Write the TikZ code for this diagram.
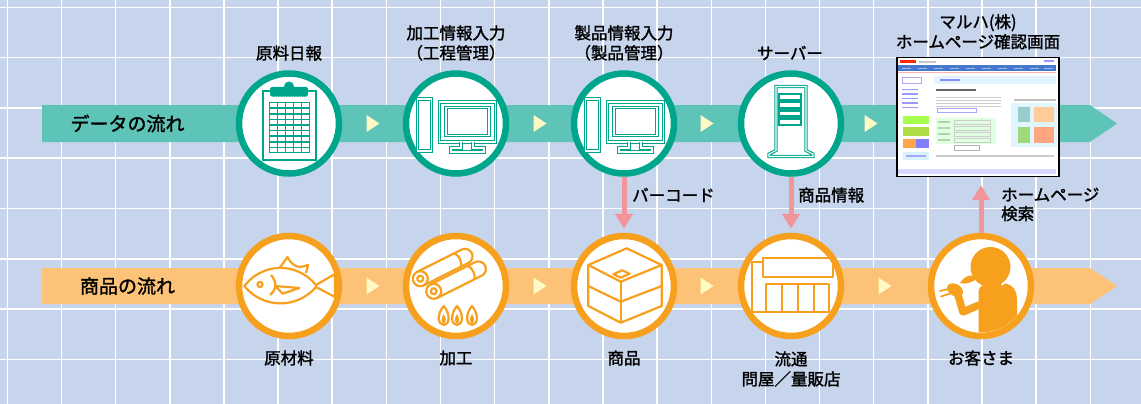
\documentclass[tikz,border=0pt]{standalone}
\usepackage{fontspec}
\setmainfont{Noto Sans CJK JP}[FakeBold=1.6]
\usetikzlibrary{arrows.meta}
\definecolor{bgblue}{RGB}{198,212,236}
\definecolor{datateal}{RGB}{0,166,140}
\definecolor{databand}{RGB}{94,196,184}
\definecolor{goodsorange}{RGB}{246,160,30}
\definecolor{goodsband}{RGB}{252,195,120}
\definecolor{stepmark}{RGB}{255,249,196}
\definecolor{linkpink}{RGB}{242,148,154}
\definecolor{navblue}{RGB}{70,120,205}

\begin{document}
\begin{tikzpicture}[x=1pt, y=-1pt,
    datastep/.style={circle, draw=datateal, fill=white, line width=6.5pt, minimum size=100pt, inner sep=0pt},
    goodsstep/.style={datastep, draw=goodsorange},
    steptext/.style={font=\fontsize{16.5}{20}\selectfont, align=center, inner sep=0pt},
    bandtext/.style={font=\fontsize{19}{22}\selectfont, inner sep=0pt},
    screen/.style={draw=black, fill=white, line width=1.2pt, minimum width=162pt, minimum height=119pt, inner sep=0pt},
    linkarrow/.style={draw=linkpink, line width=5pt, -{Triangle[width=17pt,length=15pt]}},
    dataicon/.style={draw=datateal, line width=1.1pt, double=white, double distance=1.1pt},
    goodsicon/.style={draw=goodsorange, line width=2.2pt, line join=round}]
   \useasboundingbox (0,0) rectangle (1141,404);
   \fill[bgblue] (0,0) rectangle (1141,404);
   \foreach \i in {0,...,20}
      \draw[white, line width=1.5pt] (7.3+54.15*\i,0) -- (7.3+54.15*\i,404);
   \foreach \j in {0,...,7}
      \draw[white, line width=1.5pt] (0,7.3+50.3*\j) -- (1141,7.3+50.3*\j);

   \fill[databand] (42,105) -- (1090,105) -- (1117,123.5) -- (1090,142) -- (42,142) -- cycle;
   \fill[goodsband] (42,268) -- (1090,268) -- (1117,286) -- (1090,304) -- (42,304) -- cycle;
   \node[bandtext] (dataflow) at (127.5,123.5) {データの流れ};
   \node[bandtext] (goodsflow) at (127.5,286) {商品の流れ};
   \foreach \x in {373,540,707,871}
      \fill[stepmark] (\x-6.5,115) -- (\x+6.5,123.5) -- (\x-6.5,132) -- cycle;
   \foreach \x in {373,540,707,885}
      \fill[stepmark] (\x-6.5,277.5) -- (\x+6.5,286) -- (\x-6.5,294.5) -- cycle;

   \node[datastep] (nippo) at (289,123.5) {};
   \node[datastep] (kakoinput) at (456,123.5) {};
   \node[datastep] (seihininput) at (624,123.5) {};
   \node[datastep] (server) at (791,123.5) {};
   \node[screen] (homepage) at (978,117) {};
   \node[goodsstep] (genryo) at (289,286) {};
   \node[goodsstep] (kako) at (456,286) {};
   \node[goodsstep] (shohin) at (624,286) {};
   \node[goodsstep] (ryutsu) at (791,286) {};
   \node[goodsstep] (kyaku) at (981,286) {};

   \node[steptext] at (289,53) {原料日報};
   \node[steptext] at (456,43) {加工情報入力\\（工程管理）};
   \node[steptext] at (624,43) {製品情報入力\\（製品管理）};
   \node[steptext] at (790,53) {サーバー};
   \node[steptext] at (978,31.7) {マルハ(株)\\ホームページ確認画面};
   \node[steptext] at (289,358) {原材料};
   \node[steptext] at (456,358) {加工};
   \node[steptext] at (624,358) {商品};
   \node[steptext] at (791,369) {流通\\問屋／量販店};
   \node[steptext] at (981,358) {お客さま};

   \draw[linkarrow, shorten >=4pt] (seihininput) -- (shohin);
   \draw[linkarrow, shorten >=4pt] (server) -- (ryutsu);
   \draw[linkarrow, shorten >=8pt] (kyaku) -- (kyaku |- homepage.south);
   \node[steptext, anchor=west] at (632,195) {バーコード};
   \node[steptext, anchor=west] at (798,195) {商品情報};
   \node[steptext, anchor=west, align=left] at (1001,204.5) {ホームページ\\[-1pt]検索};

   \begin{scope}[shift={(nippo.center)}]
      \filldraw[draw=datateal, fill=white, line width=2pt] (-26.5,-32) rectangle (26.5,36.5);
      \fill[datateal, rounded corners=2pt] (-19,-36.5) rectangle (19,-27);
      \fill[datateal] (0,-37) circle[radius=5];
      \fill[datateal] (-20.3,-21.8) rectangle (21,29.8);
      \foreach \c in {0,...,4}
         \foreach \r in {0,...,8}
            \fill[white] (-18.6+8*\c,-20.1+5.6*\r) rectangle ++(6.3,3.9);
   \end{scope}

   \begin{scope}[shift={(kakoinput.center)}]
      \draw[dataicon] (-38.3,-24.5) rectangle (-24.3,27.5);
      \draw[dataicon] (-16.5,-21.5) rectangle (39.5,18.5);
      \draw[dataicon] (-10,-16) rectangle (33,12);
      \draw[dataicon] (5,18.5) -- (5,24.5) -- (-5,24.5) -- (-5,28.5) -- (28,28.5) -- (28,24.5) -- (17,24.5) -- (17,18.5);
   \end{scope}

   \begin{scope}[shift={(seihininput.center)}]
      \draw[dataicon] (-38.3,-24.5) rectangle (-24.3,27.5);
      \draw[dataicon] (-16.5,-21.5) rectangle (39.5,18.5);
      \draw[dataicon] (-10,-16) rectangle (33,12);
      \draw[dataicon] (5,18.5) -- (5,24.5) -- (-5,24.5) -- (-5,28.5) -- (28,28.5) -- (28,24.5) -- (17,24.5) -- (17,18.5);
   \end{scope}

   \begin{scope}[shift={(server.center)}]
      \draw[dataicon] (-15,-37) -- (15,-37) -- (15,27) -- (22,30.5) -- (22,33) -- (-22,33) -- (-22,30.5) -- (-15,27) -- cycle;
      \fill[datateal] (-13.3,-30.5) rectangle (11.3,2.5);
      \foreach \y in {-28.5,-20.2,-11.9,-3.6}
         \fill[white] (-11.3,\y) rectangle (9.3,\y+3.6);
   \end{scope}

   \begin{scope}[shift={(homepage.north west)}]
      \fill[red!70!orange] (4,3) rectangle (20,6.5);
      \fill[gray!45] (23,4) rectangle (40,5.8);
      \fill[blue!40] (148,3.5) rectangle (158,5.3);
      \fill[navblue] (2,8.5) rectangle (160,14.5);
      \foreach \x in {6,22,38,54,70,86,102,118,134,148}
         \fill[white, opacity=.5] (\x,10.8) rectangle ++(9,1.4);
      \fill[red!30] (2,15.3) rectangle (160,16.3);
      \draw[blue!35] (6,20) rectangle (25,26);
      \foreach \y in {32,36.5,41,45.5,50}
         \fill[blue!40] (6,\y) rectangle ++(16,1.3);
      \fill[green!50!yellow!70] (7,59) rectangle (33,67);
      \fill[yellow!60!green!80] (7,70.5) rectangle (33,79);
      \fill[orange!70] (7,82) rectangle (20,91);
      \fill[blue!50] (20,82) rectangle (33,91);
      \fill[cyan!15] (7,95) rectangle (33,103);
      \fill[blue!35] (10,98) rectangle (30,100.5);
      \fill[cyan!12] (38,19.5) rectangle (160,27);
      \fill[blue!45] (44,22.5) rectangle ++(20,2);
      \fill[black!60] (40,32) rectangle (80,34.5);
      \foreach \y in {40,43,46,49}
         \fill[gray!40] (40,\y) rectangle ++(65,1);
      \draw[blue!35] (41,51.5) rectangle (80,55);
      \fill[green!12] (40,61) rectangle (100,87);
      \foreach \y in {64,70,76,82}
         \fill[green!40!black!30] (42,\y) rectangle ++(12,2);
      \foreach \y in {64,70,76,82}
         \draw[gray!40] (58,\y-1) rectangle ++(36,4);
      \draw[gray!60] (58,88) rectangle (83,93);
      \fill[gray!50] (118,42) rectangle (160,44);
      \fill[cyan!12] (115,46) rectangle (161,90);
      \fill[teal!40] (122,50) rectangle (134,65);
      \fill[orange!40] (138,50) rectangle (158,65);
      \fill[green!50!brown!60] (122,70) rectangle (134,86);
      \fill[orange!60!red!50] (138,70) rectangle (158,86);
      \fill[gray!40] (40,98) rectangle (158,100);
      \fill[blue!15] (2,112) rectangle (160,117.5);
   \end{scope}

   \begin{scope}[shift={(genryo.center)}]
      \draw[goodsicon] (-44.7,0) .. controls (-26,-24) and (8,-24) .. (27,-1) -- (46,-12) -- (46,11) -- (27,1) .. controls (8,23) and (-26,23) .. (-44.7,0) -- cycle;
      \draw[goodsicon] (-9,-18.5) -- (-1.5,-29) .. controls (2,-22) and (6,-20) .. (10,-19) .. controls (13,-19) and (16,-20) .. (19,-21) -- (17,-13);
      \draw[goodsicon] (-29,-1.5) circle[radius=2.6];
      \draw[goodsicon] (-18,-11) .. controls (-12,-4) and (-12,3) .. (-19,9);
      \draw[goodsicon] (-13.7,0) -- (10.3,2) -- (-6.3,7.7) -- cycle;
   \end{scope}

   \begin{scope}[shift={(kako.center)}]
      \foreach \px/\py in {-35.7/-7.3,-22.3/5.3} {
         \begin{scope}[shift={(\px,\py)}, rotate=26.6]
            \filldraw[goodsicon, fill=white] (0,-7.5) -- (50,-7.5) arc[start angle=-90, end angle=90, radius=7.5] -- (0,7.5) -- cycle;
            \draw[goodsicon] (42,-7.5) .. controls (45,-3) and (45,3) .. (42,7.5);
            \filldraw[goodsicon, fill=white] (0,0) circle[radius=7.5];
            \draw[goodsicon] (0,0) circle[radius=3];
         \end{scope}
      }
      \foreach \x in {-12.3,1,16} {
         \draw[goodsicon] (\x,20) .. controls (\x-7,28) and (\x-6,39) .. (\x,39) .. controls (\x+6,39) and (\x+7,28) .. (\x,20) -- cycle;
         \fill[goodsorange] (\x,28) .. controls (\x-3.5,33) and (\x-2,37) .. (\x,37.5) .. controls (\x+2,37) and (\x+3.5,33) .. (\x,28);
      }
   \end{scope}

   \begin{scope}[shift={(shohin.center)}]
      \draw[goodsicon] (-35.7,-21) -- (2.7,-37.7) -- (37.7,-21) -- (-3.3,-4.3) -- cycle;
      \draw[goodsicon] (-35.7,-21) -- (-35.7,20) -- (-3.3,36.7) -- (37.7,20) -- (37.7,-21);
      \draw[goodsicon] (-3.3,-4.3) -- (-3.3,36.7);
      \draw[goodsicon] (-35.7,0) -- (-3.3,15.7) -- (37.7,0);
      \draw[goodsicon] (-10.6,-11.8) -- (-1.75,-15.7) -- (5.6,-12.2) -- (-3.2,-8.3) -- cycle;
   \end{scope}

   \begin{scope}[shift={(ryutsu.center)}]
      \draw[goodsicon] (-39,26) -- (-39,-24) -- (-28,-24);
      \draw[goodsicon] (-28,-28) rectangle (42,-9);
      \draw[goodsicon] (-39,26) -- (-24.7,26);
      \draw[goodsicon] (-24.7,-2.3) rectangle (37.7,26);
      \foreach \x in {-9,6.7,22.7}
         \draw[goodsicon] (\x,-2.3) -- (\x,26);
   \end{scope}

   \begin{scope}[shift={(kyaku.center)}]
      \begin{scope}
         \clip (0,0) circle[radius=46.5];
         \fill[goodsorange] (-2.5,50) -- (-2.5,6) .. controls (-2,0) and (2,-2) .. (8,-2) -- (22,-3) .. controls (32,-2) and (36,5) .. (36,14) -- (36,50) -- cycle;
      \end{scope}
      \fill[goodsorange] (9.5,-19) circle[radius=20];
      \draw[white, line width=1.8pt] (9.5,-19) ++(25:21) arc[start angle=25, end angle=58, radius=21];
      \draw[goodsorange, line width=7.5pt, line cap=round, line join=round] (-2,19) -- (-18,26) -- (-23,9);
      \fill[goodsorange, rotate around={-30:(-26,4)}] (-26,4) ellipse[x radius=8.5, y radius=6];
      \fill[goodsorange] (-21,-3) .. controls (-15,-12) and (-8,-12) .. (-2,-8) .. controls (-9,-4) and (-15,-1) .. (-21,-3);
      \draw[goodsorange, line width=1.8pt, line cap=round] (-32,3) -- (-41,5) (-31,7.5) -- (-40,10.5);
   \end{scope}
 \end{tikzpicture}
\end{document}
